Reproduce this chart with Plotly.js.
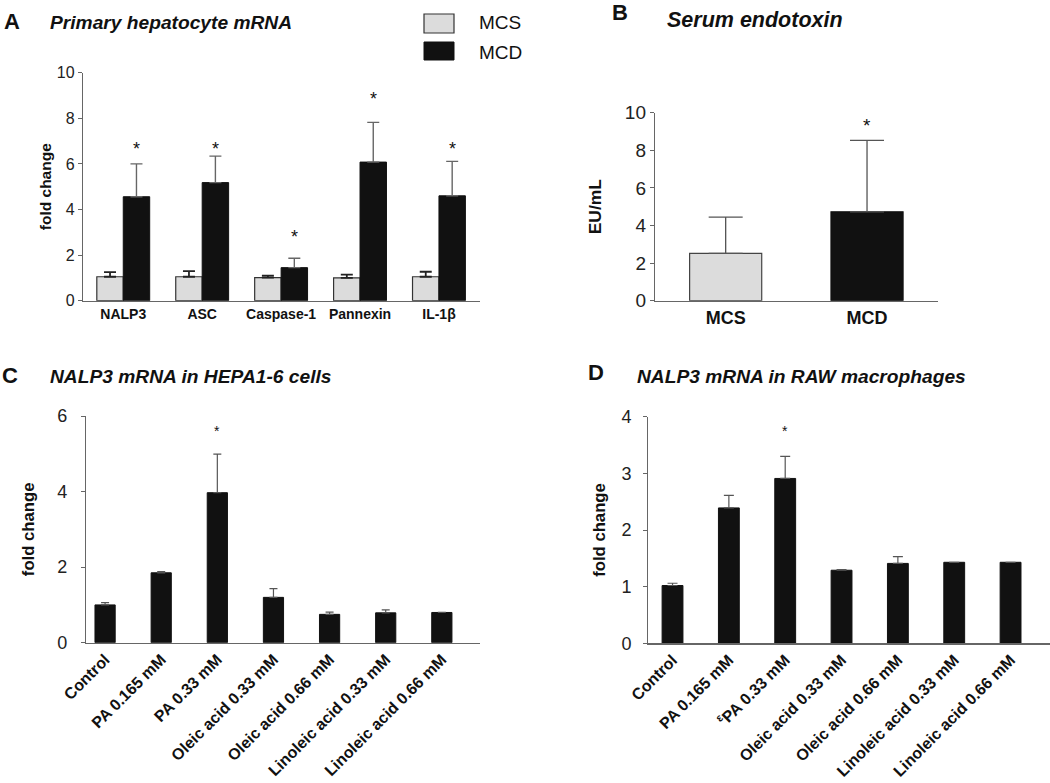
<!DOCTYPE html>
<html>
<head>
<meta charset="utf-8">
<script src="https://cdn.plot.ly/plotly-3.0.1.min.js"></script>
<style>html,body{margin:0;padding:0;background:#fff;}#chart{width:1050px;height:783px;}</style>
</head>
<body>
<div id="chart"></div>
<script>
// ---------- Data ----------
// Panel A: primary hepatocyte mRNA
var genesA = ["NALP3", "ASC", "Caspase-1", "Pannexin", "IL-1\u03b2"];
var mcsA = [1.05, 1.05, 1.01, 1.00, 1.05];
var mcsErrA = [0.20, 0.25, 0.09, 0.14, 0.22];
var mcdA = [4.56, 5.18, 1.45, 6.08, 4.60];
var mcdErrA = [1.44, 1.16, 0.41, 1.74, 1.51];
var starA = [6.65, 6.67, 2.78, 8.85, 6.65];

// Panel B: serum endotoxin
var groupsB = ["MCS", "MCD"];
var valB = [2.52, 4.73];
var errB = [1.93, 3.80];
var starB = [null, 9.3];

// Panel C: NALP3 mRNA in HEPA1-6 cells
var treatC = ["Control", "PA 0.165 mM", "PA 0.33 mM", "Oleic acid 0.33 mM", "Oleic acid 0.66 mM", "Linoleic acid 0.33 mM", "Linoleic acid 0.66 mM"];
var valC = [1.00, 1.85, 3.97, 1.20, 0.75, 0.79, 0.80];
var errC = [0.06, 0.03, 1.02, 0.23, 0.06, 0.08, 0.00];
var starC = [null, null, 5.6, null, null, null, null];

// Panel D: NALP3 mRNA in RAW macrophages
var treatD = ["Control", "PA 0.165 mM", "<sup>\u03b5</sup>PA 0.33 mM", "Oleic acid 0.33 mM", "Oleic acid 0.66 mM", "Linoleic acid 0.33 mM", "Linoleic acid 0.66 mM"];
var valD = [1.02, 2.39, 2.91, 1.29, 1.41, 1.43, 1.43];
var errD = [0.04, 0.22, 0.39, 0.01, 0.12, 0.00, 0.00];
var starD = [null, null, 3.75, null, null, null, null];

// ---------- Helpers ----------
var W = 1050, H = 783;
function px(x) { return x / W; }
function py(y) { return 1 - y / H; }
function zeros(n) { var a = []; for (var i = 0; i < n; i++) a.push(0); return a; }
var FONT = "Liberation Sans, Arial, sans-serif";
var DARK = "#111111";
var LIGHT = "#dcdcdc";

var traces = [];
// A
traces.push({
  type: "bar", x: genesA, y: mcsA, xaxis: "x", yaxis: "y", name: "MCS",
  width: 0.335, offset: -0.335,
  marker: {color: LIGHT, line: {color: "#333", width: 1.2}},
  error_y: {type: "data", symmetric: false, array: mcsErrA, arrayminus: zeros(5), color: "#222", thickness: 1.8, width: 6}
});
traces.push({
  type: "bar", x: genesA, y: mcdA, xaxis: "x", yaxis: "y", name: "MCD",
  width: 0.335, offset: 0,
  marker: {color: DARK, line: {color: DARK, width: 1}},
  error_y: {type: "data", symmetric: false, array: mcdErrA, arrayminus: zeros(5), color: "#666", thickness: 1.4, width: 6}
});
// B
traces.push({
  type: "bar", x: groupsB, y: valB, xaxis: "x2", yaxis: "y2",
  width: 0.51,
  marker: {color: [LIGHT, DARK], line: {color: ["#444", DARK], width: 1.2}},
  error_y: {type: "data", symmetric: false, array: errB, arrayminus: zeros(2), color: "#555", thickness: 1.3, width: 17}
});
// C
traces.push({
  type: "bar", x: treatC, y: valC, xaxis: "x3", yaxis: "y3",
  width: 0.36,
  marker: {color: DARK, line: {color: DARK, width: 1}},
  error_y: {type: "data", symmetric: false, array: errC, arrayminus: zeros(7), color: "#555", thickness: 1.2, width: 4}
});
// D
traces.push({
  type: "bar", x: treatD, y: valD, xaxis: "x4", yaxis: "y4",
  width: 0.37,
  marker: {color: DARK, line: {color: DARK, width: 1}},
  error_y: {type: "data", symmetric: false, array: errD, arrayminus: zeros(7), color: "#555", thickness: 1.2, width: 5}
});

// ---------- Annotations ----------
var ann = [];
function txt(x, y, t, size, opts) {
  var a = {xref: "paper", yref: "paper", x: px(x), y: py(y), text: t, showarrow: false,
    xanchor: "left", yanchor: "middle", font: {family: FONT, size: size, color: "#111"}};
  for (var k in (opts || {})) a[k] = opts[k];
  return a;
}
ann.push(txt(2, 21, "<b>A</b>", 22));
ann.push(txt(48, 22, "<b><i>Primary hepatocyte mRNA</i></b>", 19.2));
ann.push(txt(477, 22, "MCS", 19));
ann.push(txt(477, 52, "MCD", 19));
ann.push(txt(610, 13, "<b>B</b>", 22));
ann.push(txt(665, 20, "<b><i>Serum endotoxin</i></b>", 21.5));
ann.push(txt(0, 375, "<b>C</b>", 22));
ann.push(txt(48, 377, "<b><i>NALP3 mRNA in HEPA1-6 cells</i></b>", 19.2));
ann.push(txt(586, 373, "<b>D</b>", 22));
ann.push(txt(635, 377, "<b><i>NALP3 mRNA in RAW macrophages</i></b>", 19.2));

function stars(arr, xr, yr, size, shift) {
  for (var i = 0; i < arr.length; i++) {
    if (arr[i] === null) continue;
    ann.push({xref: xr, yref: yr, x: i + shift, y: arr[i], text: "*", showarrow: false,
      xanchor: "center", yanchor: "middle", font: {family: FONT, size: size, color: "#111"}});
  }
}
stars(starA, "x", "y", 18, 0.1675);
stars(starB, "x2", "y2", 19, 0);
stars(starC, "x3", "y3", 14, 0);
stars(starD, "x4", "y4", 14, 0);

// legend swatches
var shapes = [
  {type: "rect", xref: "paper", yref: "paper", x0: px(424), x1: px(454), y0: py(33), y1: py(14), fillcolor: LIGHT, line: {color: "#333", width: 1.2}},
  {type: "rect", xref: "paper", yref: "paper", x0: px(424), x1: px(454), y0: py(60), y1: py(42), fillcolor: DARK, line: {color: DARK, width: 1}}
];

function xax(domain, range, size, angle) {
  return {domain: domain, range: range, type: "category", showline: true, linecolor: "#666", linewidth: 1.2,
    ticks: "", showgrid: false, zeroline: false, tickangle: angle,
    tickfont: {family: FONT, size: size, color: "#111", weight: "bold"}, fixedrange: true};
}
function yax(domain, range, dtick, title, tsize, fsize, standoff, labelStandoff) {
  return {domain: domain, range: range, dtick: dtick, showline: true, linecolor: "#666", linewidth: 1.2,
    ticks: "outside", ticklen: 4, tickcolor: "#666", showgrid: false, zeroline: false,
    ticklabelstandoff: labelStandoff,
    tickfont: {family: FONT, size: fsize, color: "#222"},
    title: {text: "<b>" + title + "</b>", font: {family: FONT, size: tsize, color: "#111"}, standoff: standoff},
    fixedrange: true};
}

var layout = {
  width: W, height: H, margin: {l: 0, r: 0, t: 0, b: 0},
  paper_bgcolor: "#fff", plot_bgcolor: "rgba(0,0,0,0)", showlegend: false,
  barmode: "group",
  font: {family: FONT, color: "#111"},
  xaxis: Object.assign(xax([px(83), px(480)], [-0.51, 4.52], 14, 0), {anchor: "y"}),
  yaxis: Object.assign(yax([py(300.7), py(72.7)], [0, 10], 2, "fold change", 15.5, 16, 1, 0), {anchor: "x"}),
  xaxis2: Object.assign(xax([px(655), px(937.7)], [-0.5, 1.5], 18, 0), {anchor: "y2"}),
  yaxis2: Object.assign(yax([py(300.7), py(112.7)], [0, 10], 2, "EU/mL", 17.4, 19, 18, 0), {anchor: "x2"}),
  xaxis3: Object.assign(xax([px(86), px(480)], [-0.34, 6.68], 16, -45), {anchor: "y3"}),
  yaxis3: Object.assign(yax([py(642.7), py(416)], [0, 6], 2, "fold change", 16.7, 18, 18, 10), {anchor: "x3"}),
  xaxis4: Object.assign(xax([px(648.3), 1], [-0.43, 6.7], 16, -45), {anchor: "y4"}),
  yaxis4: Object.assign(yax([py(643.3), py(416.7)], [0, 4], 1, "fold change", 16.7, 18, 11, 8), {anchor: "x4"}),
  annotations: ann,
  shapes: shapes
};

Plotly.newPlot("chart", traces, layout, {displayModeBar: false, staticPlot: true});
</script>
</body>
</html>
